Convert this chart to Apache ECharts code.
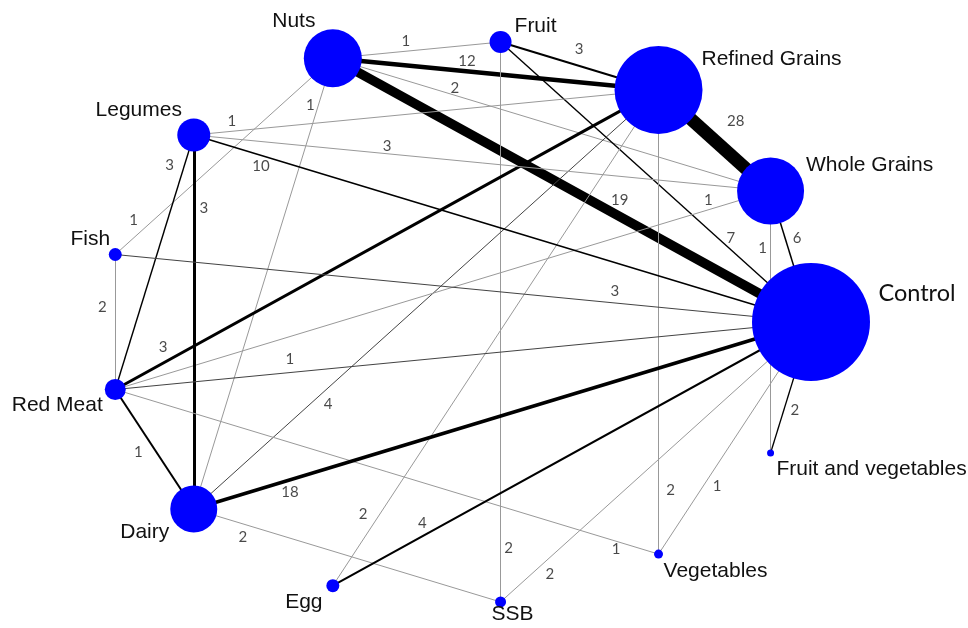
<!DOCTYPE html>
<html>
<head>
<meta charset="utf-8">
<title>Diet network</title>
<script src="https://cdn.jsdelivr.net/npm/echarts@6/dist/echarts.min.js"></script>
<style>
  html, body { margin: 0; padding: 0; background: #fff; }
  #chart { width: 968px; height: 628px; }
</style>
</head>
<body>
<div id="chart"></div>
<script>
// Treatments, in order around the ring (counter-clockwise from Control)
const nodeNames = ['Control', 'Whole Grains', 'Refined Grains', 'Fruit', 'Nuts', 'Legumes',
  'Fish', 'Red Meat', 'Dairy', 'Egg', 'SSB', 'Vegetables', 'Fruit and vegetables'];
// Relative node weight (drawn as node diameter)
const nodeWeights = [118, 67, 88, 22, 58, 33, 13, 21, 47, 13, 11, 9, 7];

// Direct comparisons
const edgeFrom = ['Nuts', 'Nuts', 'Nuts', 'Nuts', 'Nuts', 'Nuts', 'Fruit', 'Fruit', 'Fruit',
  'Refined Grains', 'Legumes', 'Red Meat', 'Dairy', 'Egg', 'Refined Grains', 'Whole Grains',
  'Whole Grains', 'Legumes', 'Red Meat', 'Legumes', 'Legumes', 'Legumes', 'Fish', 'Fish',
  'Red Meat', 'Red Meat', 'Red Meat', 'Dairy', 'Dairy', 'Egg', 'SSB', 'Vegetables', 'Control'];
const edgeTo = ['Fruit', 'Refined Grains', 'Whole Grains', 'Control', 'Fish', 'Dairy',
  'Refined Grains', 'Control', 'SSB', 'Whole Grains', 'Refined Grains', 'Refined Grains',
  'Refined Grains', 'Refined Grains', 'Vegetables', 'Control', 'Fruit and vegetables',
  'Whole Grains', 'Whole Grains', 'Control', 'Dairy', 'Red Meat', 'Control', 'Red Meat',
  'Control', 'Dairy', 'Vegetables', 'Control', 'SSB', 'Control', 'Control', 'Control',
  'Fruit and vegetables'];
// Number of trials per comparison (edge labels)
const edgeTrials = [1, 12, 2, 19, 1, 1, 3, 7, 2, 28, 1, 3, 4, 2, 2, 6, 1, 3, 1, 10, 3, 3, 3, 2,
  1, 1, 1, 18, 2, 4, 2, 1, 2];
// Relative weight of each comparison (drawn as line thickness)
const edgeWeights = [0.6, 4.5, 0.6, 9.5, 0.6, 0.6, 2, 1.4, 0.6, 13, 0.6, 3, 1.0, 0.6, 0.6, 1.5,
  0.6, 0.6, 0.6, 1.6, 3, 1.4, 1.1, 0.6, 1.1, 2, 0.6, 3.5, 0.6, 2, 0.6, 0.6, 1.3];

// ---- layout ----
const W = 968, H = 628;
const ring = { cx: 458, cy: 322, rx: 353, ry: 282 };
// where each edge label sits: fraction along the edge, then a pixel nudge
const labelAlong = [0.436, 0.412, 0.279, 0.60, 0.824, 0.104, 0.497, 0.70, 0.904, 0.52, 0.082,
  0.088, 0.289, 0.145, 0.862, 0.359, 0.218, 0.335, 0.905, 0.109, 0.195, 0.118, 0.718, 0.389,
  0.251, 0.523, 0.922, 0.156, 0.160, 0.187, 0.159, 0.293, 0.671];
const labelNudge = [[0, -10], [0, -10], [0, -7], [0, -16], [-20, 0], [-8, 0], [0, -17], [13, 0],
  [8, 0], [19, -21], [0, -10], [0, -16], [0, 16], [-17, 0], [12, 0], [12, 0], [-8, 0], [0, -8],
  [0, -10], [0, 11], [10, 0], [-15, 0], [0, -12], [-13, 0], [0, -13], [-18, 0], [0, 8], [0, 12],
  [0, 13], [0, -13], [0, 17], [14, 0], [11, 0]];
// node name placement relative to the node centre
const nameNudge = [[106, -29], [99, -26], [113, -31], [35, -16], [-39, -37], [-55, -25],
  [-25, -15], [-58, 16], [-49, 23], [-29, 17], [12, 12], [57, 17], [101, 16]];

const pos = {};
nodeNames.forEach((n, k) => {
  const a = 2 * Math.PI * k / nodeNames.length;
  pos[n] = [ring.cx + ring.rx * Math.cos(a), ring.cy - ring.ry * Math.sin(a)];
});

const nodes = nodeNames.map((n, k) => ({
  name: n,
  value: pos[n],
  symbolSize: nodeWeights[k],
  label: {
    show: true,
    position: 'inside',
    offset: nameNudge[k],
    formatter: n,
    color: '#111',
    fontFamily: n === 'Control' ? 'Lato' : 'Liberation Sans',
    fontSize: n === 'Control' ? 23.5 : 21
  }
}));

function edgeColor(w) {
  if (w >= 1.3) return '#000';
  if (w >= 1) return '#444';
  return '#999';
}

const links = edgeFrom.map((s, i) => ({
  source: s,
  target: edgeTo[i],
  lineStyle: { width: Math.max(1, edgeWeights[i]), color: edgeColor(edgeWeights[i]), opacity: 1, curveness: 0 }
}));

const edgeLabels = edgeFrom.map((s, i) => {
  const a = pos[s], b = pos[edgeTo[i]], t = labelAlong[i];
  return {
    value: [a[0] + (b[0] - a[0]) * t + labelNudge[i][0], a[1] + (b[1] - a[1]) * t + labelNudge[i][1]],
    name: String(edgeTrials[i])
  };
});

const chart = echarts.init(document.getElementById('chart'), null, { renderer: 'canvas' });
chart.setOption({
  backgroundColor: '#fff',
  animation: false,
  grid: { left: 0, right: 0, top: 0, bottom: 0 },
  xAxis: { type: 'value', min: 0, max: W, show: false },
  yAxis: { type: 'value', min: 0, max: H, inverse: true, show: false },
  series: [
    {
      type: 'graph',
      coordinateSystem: 'cartesian2d',
      layout: 'none',
      silent: true,
      symbol: 'circle',
      itemStyle: { color: '#0000ff' },
      edgeSymbol: ['none', 'none'],
      data: nodes,
      links: links,
      emphasis: { disabled: true },
      z: 2
    },
    {
      type: 'scatter',
      silent: true,
      symbol: 'circle',
      symbolSize: 2,
      itemStyle: { color: 'rgba(0,0,0,0)' },
      label: {
        show: true,
        position: 'inside',
        formatter: p => p.name,
        color: '#1a1a1a',
        fontFamily: 'Lato',
        fontSize: 15
      },
      labelLayout: { hideOverlap: false },
      data: edgeLabels,
      z: 5
    }
  ]
});
</script>
</body>
</html>
